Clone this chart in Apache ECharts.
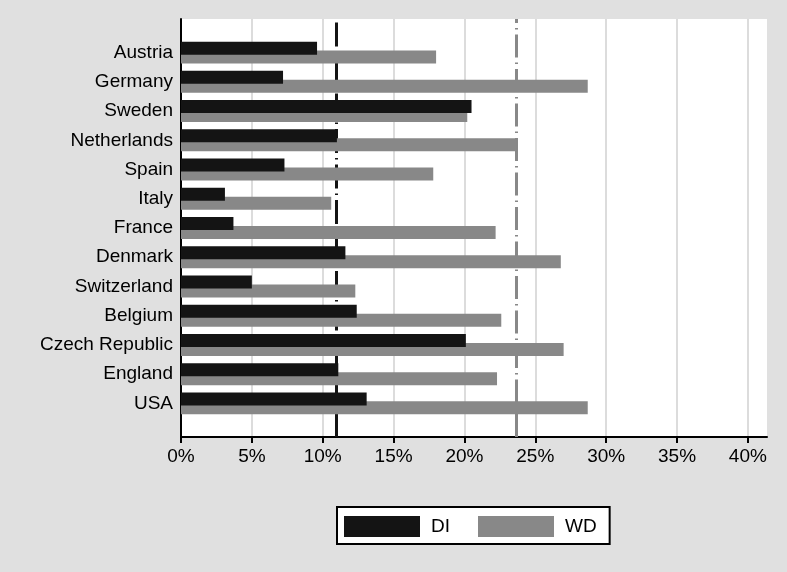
<!DOCTYPE html>
<html>
<head>
<meta charset="utf-8">
<script src="https://cdn.jsdelivr.net/npm/echarts@6/dist/echarts.min.js"></script>
<style>
  html, body { margin: 0; padding: 0; background: #e0e0e0; }
  #chart { width: 787px; height: 572px; }
</style>
</head>
<body>
<div id="chart"></div>
<script>
// categories, top to bottom
const countries = ['Austria', 'Germany', 'Sweden', 'Netherlands', 'Spain', 'Italy', 'France',
  'Denmark', 'Switzerland', 'Belgium', 'Czech Republic', 'England', 'USA']
// share per country (%)
const diValues = [9.6, 7.2, 20.5, 11.0, 7.3, 3.1, 3.7, 11.6, 5.0, 12.4, 20.1, 11.1, 13.1]
const wdValues = [18.0, 28.7, 20.2, 23.7, 17.8, 10.6, 22.2, 26.8, 12.3, 22.6, 27.0, 22.3, 28.7]
// reference lines (%)
const diRef = 10.95
const wdRef = 23.65
const xTicks = [0, 5, 10, 15, 20, 25, 30, 35, 40]

const font = 'Liberation Sans, Arial, sans-serif'
const xMax = 41.35

const chart = echarts.init(document.getElementById('chart'))
const option = {
  backgroundColor: '#e0e0e0',
  animation: false,
  textStyle: { fontFamily: font },
  legend: {
    left: 337,
    top: 507,
    data: ['DI', 'WD'],
    icon: 'rect',
    backgroundColor: '#fff',
    borderColor: '#000',
    borderWidth: 2,
    padding: [9, 13, 7, 7],
    itemWidth: 76,
    itemHeight: 21,
    itemGap: 28,
    textStyle: { fontSize: 19, color: '#000', fontFamily: font, padding: [0, 0, 0, 6] },
  },
  grid: [
    // bars
    { left: 181, right: 20, top: 38, height: 380 },
    // white plot frame
    { left: 181, right: 20, top: 19, height: 418, show: true, backgroundColor: '#fff', borderWidth: 0 },
  ],
  xAxis: [
    { gridIndex: 0, type: 'value', min: 0, max: xMax, show: false },
    {
      gridIndex: 1,
      type: 'value',
      min: 0,
      max: xMax,
      interval: 5,
      axisLine: { show: true, lineStyle: { color: '#000', width: 2 } },
      axisTick: { show: true, length: 6, customValues: xTicks, lineStyle: { color: '#000', width: 2 } },
      axisLabel: {
        margin: 10,
        fontSize: 19,
        color: '#000',
        fontFamily: font,
        customValues: xTicks,
        formatter: '{value}%',
      },
      splitLine: { show: true, lineStyle: { color: '#dcdcdc', width: 2 } },
    },
  ],
  yAxis: [
    {
      gridIndex: 0,
      type: 'category',
      inverse: true,
      data: countries,
      axisLine: { show: false },
      axisTick: { show: false },
      axisLabel: { margin: 8, fontSize: 19, color: '#000', fontFamily: font },
    },
    {
      gridIndex: 1,
      type: 'value',
      min: 0,
      max: 1,
      axisLine: { show: true, lineStyle: { color: '#000', width: 2 } },
      axisTick: { show: false },
      axisLabel: { show: false },
      splitLine: { show: false },
    },
  ],
  series: [
    {
      // only carries the reference lines
      type: 'line',
      xAxisIndex: 1,
      yAxisIndex: 1,
      data: [],
      z: 1,
      markLine: {
        silent: true,
        symbol: 'none',
        z: 1,
        label: { show: false },
        data: [
          { xAxis: diRef, lineStyle: { color: '#141414', width: 3, type: [24, 5, 1.5, 5] } },
          { xAxis: wdRef, lineStyle: { color: '#888888', width: 3, type: [23, 5, 1.5, 5] } },
        ],
      },
    },
    {
      name: 'DI',
      type: 'bar',
      xAxisIndex: 0,
      yAxisIndex: 0,
      data: diValues,
      barWidth: 13,
      barGap: '-31%',
      itemStyle: { color: '#141414' },
      z: 6,
    },
    {
      name: 'WD',
      type: 'bar',
      xAxisIndex: 0,
      yAxisIndex: 0,
      data: wdValues,
      barWidth: 13,
      barGap: '-31%',
      itemStyle: { color: '#888888' },
      z: 5,
    },
  ],
}
chart.setOption(option)
</script>
</body>
</html>
